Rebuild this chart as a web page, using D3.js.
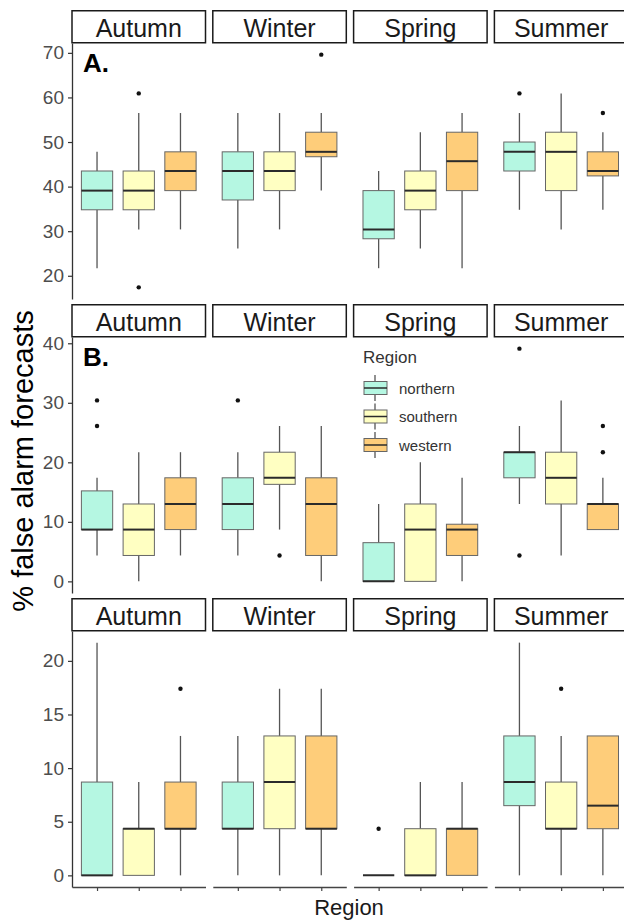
<!DOCTYPE html>
<html>
<head>
<meta charset="utf-8">
<script src="https://cdn.jsdelivr.net/npm/d3@7"></script>
<style>
  body { margin: 0; background: #fff; }
  svg { display: block; font-family: "Liberation Sans", Arial, sans-serif; }
</style>
</head>
<body>
<div id="chart"></div>
<script>
var seasons = ["Autumn", "Winter", "Spring", "Summer"];
var regions = ["northern", "southern", "western"];
var regionColors = ["#b5f7e2", "#ffffc2", "#fecd7a"];

// box stats per season x region: [lower whisker, q1, median, q3, upper whisker]
var statsA = [
  [21.7, 34.8, 39.1, 43.5, 47.8], [30.4, 34.8, 39.1, 43.5, 56.5], [30.4, 39.1, 43.5, 47.8, 56.5],
  [26.1, 37.0, 43.5, 47.8, 56.5], [30.4, 39.1, 43.5, 47.8, 56.5], [39.1, 46.7, 47.8, 52.2, 56.5],
  [21.7, 28.3, 30.4, 39.1, 43.5], [26.1, 34.8, 39.1, 43.5, 52.2], [21.7, 39.1, 45.7, 52.2, 56.5],
  [34.8, 43.5, 47.8, 50.0, 56.5], [30.4, 39.1, 47.8, 52.2, 60.9], [34.8, 42.4, 43.5, 47.8, 52.2]
];
var outliersA = [[], [60.9, 17.4], [], [], [], [69.6], [], [], [], [60.9], [], [56.5]];

var statsB = [
  [4.35, 8.7, 8.7, 15.2, 17.4], [0, 4.35, 8.7, 13.0, 21.7], [4.35, 8.7, 13.0, 17.4, 21.7],
  [4.35, 8.7, 13.0, 17.4, 21.7], [8.7, 16.3, 17.4, 21.7, 26.1], [0, 4.35, 13.0, 17.4, 26.1],
  [0, 0, 0, 6.5, 13.0], [0, 0, 8.7, 13.0, 20.0], [0, 4.35, 8.7, 9.6, 17.4],
  [13.0, 17.4, 21.7, 21.7, 26.1], [4.35, 13.0, 17.4, 21.7, 30.4], [8.7, 8.7, 13.0, 13.0, 17.4]
];
var outliersB = [[30.4, 26.1], [], [], [30.4], [4.35], [], [], [], [], [39.1, 4.35], [], [26.1, 21.7]];

var statsC = [
  [0, 0, 0, 8.7, 21.7], [0, 0, 4.35, 4.35, 8.7], [0, 4.35, 4.35, 8.7, 13.0],
  [0, 4.35, 4.35, 8.7, 13.0], [0, 4.35, 8.7, 13.0, 17.4], [0, 4.35, 4.35, 13.0, 17.4],
  [0, 0, 0, 0, 0], [0, 0, 0, 4.35, 8.7], [0, 0, 4.35, 4.35, 8.7],
  [0, 6.5, 8.7, 13.0, 21.7], [0, 4.35, 4.35, 8.7, 13.0], [0, 4.35, 6.5, 13.0, 13.0]
];
var outliersC = [[], [], [17.4], [], [], [], [4.35], [], [], [], [17.4], []];

var ticksA = [20, 30, 40, 50, 60, 70];
var ticksB = [0, 10, 20, 30, 40];
var ticksC = [0, 5, 10, 15, 20];

var width = 624, height = 921;
var left = 72, facetW = 133.5, gap = 7.3, stripH = 33, plotH = 256;

var svg = d3.select("#chart").append("svg").attr("width", width).attr("height", height);
svg.append("rect").attr("width", width).attr("height", height).attr("fill", "#fff");

var fx = d3.scaleBand().domain(seasons)
  .range([left, left + 4 * facetW + 3 * gap])
  .paddingInner(gap / (facetW + gap)).paddingOuter(0);
var px = d3.scalePoint().domain(regions).range([0, fx.bandwidth()]).padding(0.6);
var boxW = px.step() * 0.75;

function drawPanel(stats, outliers, ticks, top, tag, showX) {
  var plotTop = top + stripH, plotBot = plotTop + plotH;
  var all = d3.merge(stats).concat(d3.merge(outliers));
  var lo = d3.min(all), hi = d3.max(all), pad = (hi - lo) * 0.05;
  var y = d3.scaleLinear().domain([lo - pad, hi + pad]).range([plotBot, plotTop]);
  var g = svg.append("g");

  // strips
  seasons.forEach(function(s) {
    g.append("rect").attr("x", fx(s)).attr("y", top + 0.75).attr("width", fx.bandwidth()).attr("height", stripH - 1)
      .attr("fill", "#fff").attr("stroke", "#1a1a1a").attr("stroke-width", 1.5);
    g.append("text").attr("x", fx(s) + fx.bandwidth() / 2).attr("y", top + 27)
      .attr("text-anchor", "middle").attr("font-size", 25).attr("fill", "#1a1a1a").text(s);
  });

  // y axis
  var ax = g.append("g").attr("transform", "translate(" + left + ",0)")
    .call(d3.axisLeft(y).tickValues(ticks).tickSize(4).tickSizeOuter(0).tickPadding(4));
  ax.select(".domain").attr("stroke", "#333").attr("stroke-width", 1.3);
  ax.selectAll(".tick line").attr("stroke", "#333").attr("stroke-width", 1.2);
  ax.selectAll(".tick text").attr("font-size", 19).attr("fill", "#4d4d4d").attr("font-family", null);

  // bottom axes per facet
  if (showX) {
    seasons.forEach(function(s) {
      var bx = g.append("g").attr("transform", "translate(" + fx(s) + "," + plotBot + ")")
        .call(d3.axisBottom(px).tickSize(4).tickSizeOuter(0).tickFormat(""));
      bx.select(".domain").attr("stroke", "#444").attr("stroke-width", 1.3);
      bx.selectAll(".tick line").attr("stroke", "#444").attr("stroke-width", 1.2);
    });
  }

  // boxes
  seasons.forEach(function(s, i) {
    regions.forEach(function(r, j) {
      var d = stats[i * 3 + j];
      var cx = fx(s) + px(r);
      var bg = g.append("g");
      bg.append("line").attr("x1", cx).attr("x2", cx).attr("y1", y(d[0])).attr("y2", y(d[1]))
        .attr("stroke", "#555").attr("stroke-width", 1.3);
      bg.append("line").attr("x1", cx).attr("x2", cx).attr("y1", y(d[3])).attr("y2", y(d[4]))
        .attr("stroke", "#555").attr("stroke-width", 1.3);
      bg.append("rect").attr("x", cx - boxW / 2).attr("y", y(d[3])).attr("width", boxW)
        .attr("height", Math.max(0, y(d[1]) - y(d[3])))
        .attr("fill", regionColors[j]).attr("stroke", "#666").attr("stroke-width", 1);
      bg.append("line").attr("x1", cx - boxW / 2).attr("x2", cx + boxW / 2).attr("y1", y(d[2])).attr("y2", y(d[2]))
        .attr("stroke", "#2b2b2b").attr("stroke-width", 2);
      outliers[i * 3 + j].forEach(function(o) {
        bg.append("circle").attr("cx", cx).attr("cy", y(o)).attr("r", 2.2).attr("fill", "#111");
      });
    });
  });

  g.append("text").attr("x", left + 11).attr("y", plotTop + 29).attr("font-size", 26)
    .attr("font-weight", "bold").attr("fill", "#000").text(tag);
  return y;
}

drawPanel(statsA, outliersA, ticksA, 10, "A.", false);
drawPanel(statsB, outliersB, ticksB, 304, "B.", false);
drawPanel(statsC, outliersC, ticksC, 598, "", true);

// legend inside panel B
var lg = svg.append("g").attr("transform", "translate(363,363)");
lg.append("text").attr("x", 0).attr("y", 0).attr("font-size", 17).attr("fill", "#333").text("Region");
regions.forEach(function(r, j) {
  var cy = 25 + j * 28.5;
  var k = lg.append("g").attr("transform", "translate(0," + cy + ")");
  k.append("line").attr("x1", 12).attr("x2", 12).attr("y1", -13).attr("y2", 13).attr("stroke", "#555").attr("stroke-width", 1.3);
  k.append("rect").attr("x", 1).attr("y", -6.5).attr("width", 23).attr("height", 13)
    .attr("fill", regionColors[j]).attr("stroke", "#666").attr("stroke-width", 1);
  k.append("line").attr("x1", 1).attr("x2", 24).attr("y1", 0).attr("y2", 0).attr("stroke", "#2b2b2b").attr("stroke-width", 1.5);
  k.append("text").attr("x", 36).attr("y", 5.5).attr("font-size", 15).attr("fill", "#333").text(r);
});

// axis titles
svg.append("text").attr("transform", "translate(33,461) rotate(-90)").attr("text-anchor", "middle")
  .attr("font-size", 29).attr("fill", "#000").text("% false alarm forecasts");
svg.append("text").attr("x", 349).attr("y", 915).attr("text-anchor", "middle")
  .attr("font-size", 22).attr("fill", "#1a1a1a").text("Region");
</script>
</body>
</html>
